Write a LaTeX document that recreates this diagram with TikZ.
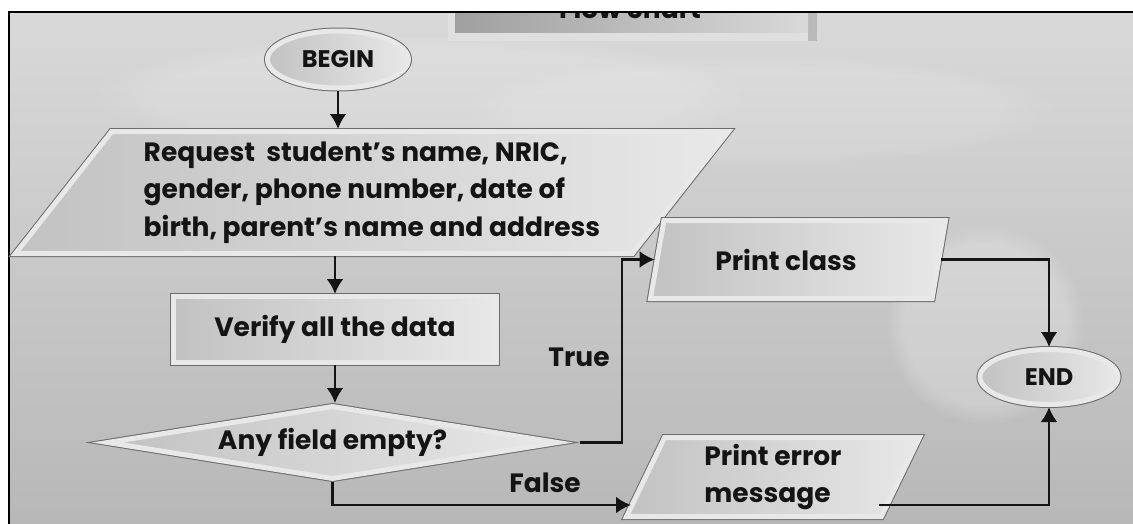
\documentclass[tikz,border=0pt]{standalone}
\usepackage{fontspec}
\setmainfont{Poppins}
\usetikzlibrary{shapes.geometric,arrows.meta,fadings,calc}
\definecolor{bgtop}{gray}{0.85}
\definecolor{bgbot}{gray}{0.72}
\definecolor{edgec}{gray}{0.42}
\definecolor{stripc}{gray}{0.91}
\definecolor{shA}{gray}{0.76}
\definecolor{shB}{gray}{0.91}
\definecolor{inkc}{gray}{0.08}
\newcommand{\txtfont}{\fontsize{26.5}{37.5}\selectfont\bfseries}
\newcommand{\termfont}{\fontsize{24}{30}\selectfont\bfseries}
\begin{document}
\begin{tikzpicture}[x=1pt,y=-1pt,
  shapebox/.style={preaction={draw=edgec,line width=7pt},draw=stripc,line width=5pt,
    left color=shA,right color=shB,inner sep=0pt,text=inkc,font=\txtfont},
  paral/.style={shapebox,trapezium,trapezium stretches body=true,align=left},
  term/.style={shapebox,ellipse,font=\termfont},
  lbl/.style={text=inkc,font=\txtfont,inner sep=0pt},
  arr/.style={draw=inkc,line width=2.6pt,-{Latex[length=15pt,width=17pt]}}]
\useasboundingbox (0,0) rectangle (1133,523);
\fill[white] (0,0) rectangle (1133,523);
% background
\shade[top color=bgtop,bottom color=bgbot] (9,12) rectangle (1133,523);
\fill[white,opacity=0.22,path fading=circle with fuzzy edge 20 percent] (985,325) circle (100);
\fill[white,opacity=0.15,path fading=circle with fuzzy edge 20 percent] (420,95) ellipse (330 and 60);
\fill[white,opacity=0.12,path fading=circle with fuzzy edge 20 percent] (760,110) ellipse (300 and 55);
% title box (cut by the frame)
\begin{scope}
\clip (9,12) rectangle (1133,523);
\fill[gray!25] (448,0) rectangle (817,41);
\fill[gray!55] (808,0) rectangle (817,41);
\shade[left color=gray!75,right color=gray!30] (455,0) rectangle (808,32);
\node[lbl,anchor=base] (title) at (630,18) {Flow chart};
\end{scope}
\draw[line width=2pt,black] (9,524) -- (9,12) -- (1134,12);
% nodes
\node[term,minimum width=141pt,minimum height=57pt] (begin) at (338,59.5) {BEGIN};
\node[paral,trapezium left angle=46.6,trapezium right angle=133.4,
      minimum width=713pt,minimum height=122pt] (req) at (372,192.5)
  {Request\ \ student's name, NRIC,\\gender, phone number, date of\\birth, parent's name and address};
\node[shapebox,rectangle,minimum width=323pt,minimum height=66pt] (verify) at (335,329.5) {Verify all the data};
\node[shapebox,diamond,shape aspect=6.1,minimum width=452pt,minimum height=74pt] (dia) at (332.5,442.5) {Any field empty?};
\node[paral,trapezium left angle=58,trapezium right angle=122,
      minimum width=295pt,minimum height=78pt] (pc) at (798,259.5) {\hspace*{-24pt}Print class};
\node[paral,trapezium left angle=60,trapezium right angle=120,
      minimum width=293pt,minimum height=79pt] (pe) at (773,477) {Print error\\message};
\node[term,minimum width=138pt,minimum height=55pt] (end) at (1049,377) {END};
\node[lbl] (ltrue) at (579,357) {True};
\node[lbl] (lfalse) at (545,483) {False};
\coordinate (tturn) at (622,442.5);
\coordinate (pein) at (631,505);
\coordinate (peout) at (879,505);
% connectors
\draw[arr] (begin) -- (begin |- req.top side);
\draw[arr] (verify |- req.bottom side) -- (verify);
\draw[arr] (verify) -- (verify |- dia.north);
\draw[arr] ([xshift=19pt]dia.east) -- (tturn) |- (pc.left side);
\draw[arr] (dia.south) |- (pein);
\draw[arr] (pc.right side) -| (end);
\draw[arr] (peout) -| (end);
\end{tikzpicture}
\end{document}
